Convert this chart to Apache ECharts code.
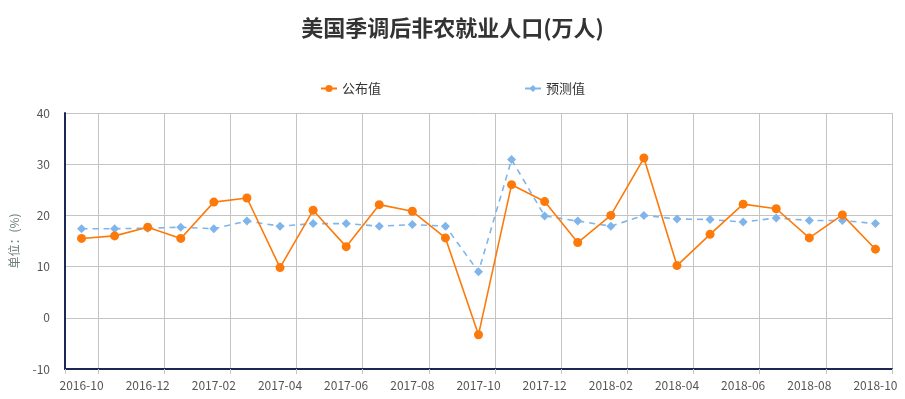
<!DOCTYPE html>
<html>
<head>
<meta charset="utf-8">
<script src="https://cdn.jsdelivr.net/npm/echarts@6/dist/echarts.min.js"></script>
<style>
html,body{margin:0;padding:0;background:#fff;}
#main{width:905px;height:399px;}
</style>
</head>
<body>
<div id="main"></div>
<script>
// 月份
var months = ['2016-10','2016-11','2016-12','2017-01','2017-02','2017-03','2017-04','2017-05','2017-06',
	'2017-07','2017-08','2017-09','2017-10','2017-11','2017-12','2018-01','2018-02','2018-03',
	'2018-04','2018-05','2018-06','2018-07','2018-08','2018-09','2018-10'];
// 公布值
var actual = [15.5, 16.0, 17.7, 15.5, 22.6, 23.4, 9.8, 21.0, 13.9, 22.1, 20.8, 15.6, -3.3,
	26.0, 22.7, 14.7, 20.0, 31.2, 10.2, 16.3, 22.2, 21.3, 15.6, 20.1, 13.4];
// 预测值
var forecast = [17.4, 17.4, 17.5, 17.7, 17.4, 18.9, 17.9, 18.4, 18.4, 17.9, 18.2, 17.9, 9.0,
	30.9, 19.9, 18.9, 17.9, 20.0, 19.3, 19.2, 18.7, 19.5, 19.0, 19.0, 18.4];
var yTicks = { min: -10, max: 40, step: 10 };

var font = 'Noto Sans CJK SC';
var navy = '#1c2754';
var gridColor = '#c4c4c4';
// 刻度线/竖网格线画在奇数类目的边界上
var oddBound = function (i) { return i === 0 || i % 2 === 1; };

var chart = echarts.init(document.getElementById('main'));
chart.setOption({
	backgroundColor: '#fff',
	animation: false,
	textStyle: { fontFamily: font },
	title: {
		text: '美国季调后非农就业人口(万人)',
		left: 'center',
		top: 12,
		textStyle: { fontSize: 22, fontWeight: 'bold', color: '#333', fontFamily: font }
	},
	legend: {
		top: 77,
		left: 'center',
		itemGap: 143,
		itemWidth: 16,
		itemHeight: 9,
		textStyle: { fontSize: 13, color: '#333', fontFamily: font },
		data: ['公布值', '预测值']
	},
	grid: { left: 63, right: 13, top: 113, bottom: 30, containLabel: false },
	xAxis: {
		type: 'category',
		data: months,
		boundaryGap: true,
		axisLine: { onZero: false, lineStyle: { color: navy, width: 2 } },
		axisTick: { show: true, interval: oddBound, length: 5, lineStyle: { color: gridColor } },
		axisLabel: { interval: 1, margin: 10, fontSize: 12, color: '#555', fontFamily: font },
		splitLine: { show: true, interval: oddBound, lineStyle: { color: gridColor, width: 1 } }
	},
	yAxis: {
		type: 'value',
		min: yTicks.min,
		max: yTicks.max,
		interval: yTicks.step,
		name: '单位：(%)',
		nameLocation: 'middle',
		nameGap: 45,
		nameRotate: 90,
		nameTextStyle: { fontSize: 12, color: '#6d7c7c', fontFamily: font },
		axisLine: { show: true, lineStyle: { color: navy, width: 2 } },
		axisTick: { show: false },
		axisLabel: { margin: 15, fontSize: 12, color: '#555', fontFamily: font },
		splitLine: { show: true, lineStyle: { color: gridColor, width: 1 } }
	},
	series: [
		{
			name: '公布值',
			type: 'line',
			data: actual,
			symbol: 'circle',
			symbolSize: 9,
			itemStyle: { color: '#fd7a0a' },
			lineStyle: { color: '#fd7a0a', width: 1.6 },
			z: 3
		},
		{
			name: '预测值',
			type: 'line',
			data: forecast,
			symbol: 'diamond',
			symbolSize: 9,
			itemStyle: { color: '#7fb5ea' },
			lineStyle: { color: '#7fb5ea', width: 1.6, type: [6, 5] },
			z: 2
		}
	]
});
</script>
</body>
</html>
